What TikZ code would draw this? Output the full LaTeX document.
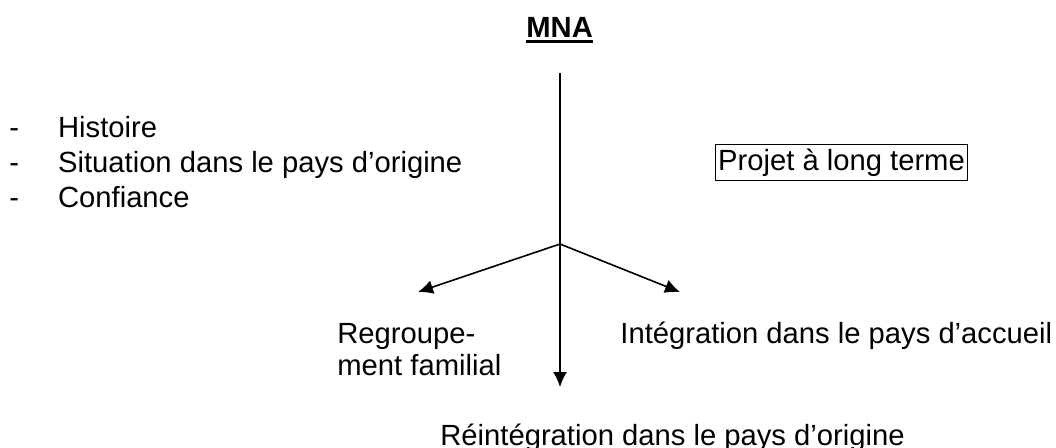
\documentclass[tikz,border=0pt]{standalone}
\usepackage{fontspec}
\setmainfont{Liberation Sans}
\usetikzlibrary{arrows.meta}

\begin{document}
\begin{tikzpicture}[x=0.5pt,y=-0.5pt,every node/.style={inner sep=0pt,font=\fontsize{14.6pt}{17.5pt}\selectfont},txt/.style={anchor=base west},box/.style={draw,line width=0.7pt,inner xsep=1.2pt,inner ysep=2pt},arr/.style={line width=0.8pt,-{Latex[length=7.5pt,width=7pt]}}]
   \useasboundingbox (0,0) rectangle (1056,447);
   \node[txt          ] (MNA)      at (526,37)  { \textbf{MNA} } ;
   \node[txt          ] (facteurs) at (9,137)   { \begin{tabular}[t]{@{}l@{\hspace{19.5pt}}l@{}} - & Histoire \\ - & Situation dans le pays d’origine \\ - & Confiance \end{tabular} } ;
   \node[box          ] (projet)   at (841.5,162.5) { Projet à long terme } ;
   \node[txt,font=\fontsize{14.6pt}{16pt}\selectfont] (regroup) at (337,343) { \begin{tabular}[t]{@{}l@{}} Regroupe- \\ ment familial \end{tabular} } ;
   \node[txt          ] (integ)    at (620,343) { Intégration dans le pays d’accueil } ;
   \node[txt          ] (reinteg)  at (440,445) { Réintégration dans le pays d’origine } ;
   \coordinate (top)   at (560,73);
   \coordinate (J)     at (560,244);
   \coordinate (left)  at (418,292);
   \coordinate (right) at (680,292);
   \coordinate (down)  at (560,387);
   \draw[line width=1.5pt] ([yshift=-2.2pt]MNA.base west) -- ([yshift=-2.2pt]MNA.base east);
   \draw[arr] (top) -- (down);
   \draw[arr] (J)   -- (left);
   \draw[arr] (J)   -- (right);
\end{tikzpicture}
\end{document}
